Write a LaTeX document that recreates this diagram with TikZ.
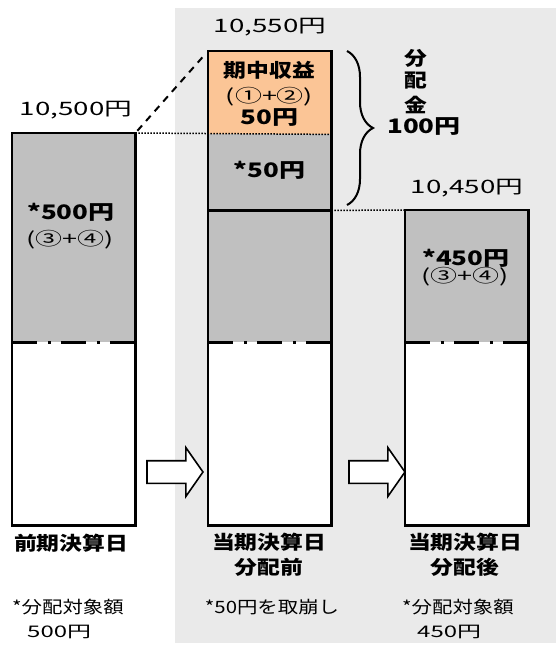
\documentclass[tikz,border=0pt]{standalone}
\usepackage{fontspec}
\newfontfamily\jp[FakeStretch=1.2]{Noto Sans CJK JP}
\newfontfamily\jpm[FakeStretch=1.3]{Noto Sans CJK JP}
\newfontfamily\jpw[FakeStretch=1.5]{Noto Sans CJK JP}
\usetikzlibrary{shapes.arrows,decorations.pathreplacing}
\definecolor{panelgray}{HTML}{EAEAEA}
\definecolor{bargray}{HTML}{C0C0C0}
\definecolor{gainorange}{HTML}{FBC596}
\begin{document}
\begin{tikzpicture}[x=1pt,y=-1pt, % ------ 分配金のしくみ -----------------------------
    seg/.style={rectangle, inner sep=0pt, minimum width=123pt, anchor=north west},
    barline/.style={line width=2.4pt},
    dotline/.style={line width=1.5pt, dash pattern=on 1.5pt off 1.5pt},
    txt/.style={inner sep=0pt},
    num/.style={txt, font=\jpw\fontsize{18.5}{20}\selectfont},
    numb/.style={txt, font=\jpm\bfseries\fontsize{20}{20}\selectfont},
    numr/.style={txt, font=\jpw\fontsize{18}{20}\selectfont},
    cjkb/.style={txt, font=\jp\bfseries\fontsize{19}{25}\selectfont, align=center},
    cjkr/.style={txt, font=\jp\fontsize{17}{25}\selectfont},
    bigarrow/.style={single arrow, draw, fill=white, line width=1.6pt, inner sep=10.5pt,
      minimum height=56pt, single arrow head extend=13pt, single arrow tip angle=110}]
    \useasboundingbox (0,0) rectangle (556,646);
    \fill [panelgray] (175,8) rectangle (556,643);
    % bars
    \node [seg, fill=bargray, minimum height=209pt] (b1gray) at (12,133) {};
    \node [seg, fill=white, minimum height=183pt] (b1white) at (12,342) {};
    \node [seg, fill=gainorange, minimum height=83pt] (b2gain) at (208,51) {};
    \node [seg, fill=bargray, minimum height=76pt] (b2cut) at (208,134) {};
    \node [seg, fill=bargray, minimum height=132pt] (b2gray) at (208,210) {};
    \node [seg, fill=white, minimum height=183pt] (b2white) at (208,342) {};
    \node [seg, fill=bargray, minimum height=132pt] (b3gray) at (405,210) {};
    \node [seg, fill=white, minimum height=183pt] (b3white) at (405,342) {};
    \draw [dotline] (b1gray.north east) -- (b2gain.south east);
    \draw [dotline] (b2cut.south east) -- (b3gray.north west);
    \draw [line width=2pt, dash pattern=on 7pt off 6pt, shorten <=3pt, shorten >=3pt]
      (b1gray.north east) -- (b2gain.north west);
    \draw [barline] (b1gray.north west) rectangle (b1white.south east);
    \draw [barline] (b2gain.north west) rectangle (b2white.south east);
    \draw [barline] (b3gray.north west) rectangle (b3white.south east);
    \draw [barline] (b2cut.south west) -- (b2cut.south east);
    % dash-dot level line
    \foreach \s in {b1white,b2white,b3white}
      \foreach \a/\w in {0/25, 35.5/3, 49/25, 84.5/3, 98/25}
        \fill [black] (\s.north west) ++(\a,-1.5) rectangle ++(\w,3);
    % values
    \node [num] (v1) at (76,110) {10,500円};
    \node [num] (v2) at (270,27) {10,550円};
    \node [num] (v3) at (467,188) {10,450円};
    \node [numb] (b1amt) at (71,212) {*500円};
    \node [numr] (b1src) at (70,240) {(③+④)};
    \node [cjkb] (gainA) at (269.5,70) {期中収益};
    \node [numr] (gainB) at (269.5,97) {(①+②)};
    \node [numb] (gainC) at (269.5,118) {50円};
    \node [numb] (cutamt) at (269.5,170) {*50円};
    \node [numb] (b3amt) at (466,258) {*450円};
    \node [numr] (b3src) at (465,277) {(③+④)};
    % brace
    \coordinate (brtop) at (347,51);
    \coordinate (brbot) at (347,205);
    \draw [line width=2pt, decorate, decoration={brace, amplitude=26pt}] (brtop) -- (brbot);
    \node [cjkb] (distA) at (416,58) {分};
    \node [cjkb] (distB) at (416,81) {配};
    \node [cjkb] (distC) at (416,105) {金};
    \node [numb] (distD) at (424,127) {100円};
    % arrows
    \node [bigarrow] (arrA) at (171,472) {};
    \node [bigarrow] (arrB) at (373,472) {};
    % labels
    \node [cjkb] (dayA) at (71,543) {前期決算日};
    \node [cjkb] (dayB) at (269,555) {当期決算日\\分配前};
    \node [cjkb] (dayC) at (465,555) {当期決算日\\分配後};
    \node [cjkr, anchor=west] (noteA) at (12,607) {*分配対象額};
    \node [numr, anchor=west, font=\jpw\fontsize{16}{20}\selectfont] (noteA2) at (27,632) {500円};
    \node [cjkr] (noteB) at (272,607) {*50円を取崩し};
    \node [cjkr, anchor=west] (noteC) at (402,607) {*分配対象額};
    \node [numr, anchor=west, font=\jpw\fontsize{16}{20}\selectfont] (noteC2) at (417,632) {450円};
\end{tikzpicture}
\end{document}
